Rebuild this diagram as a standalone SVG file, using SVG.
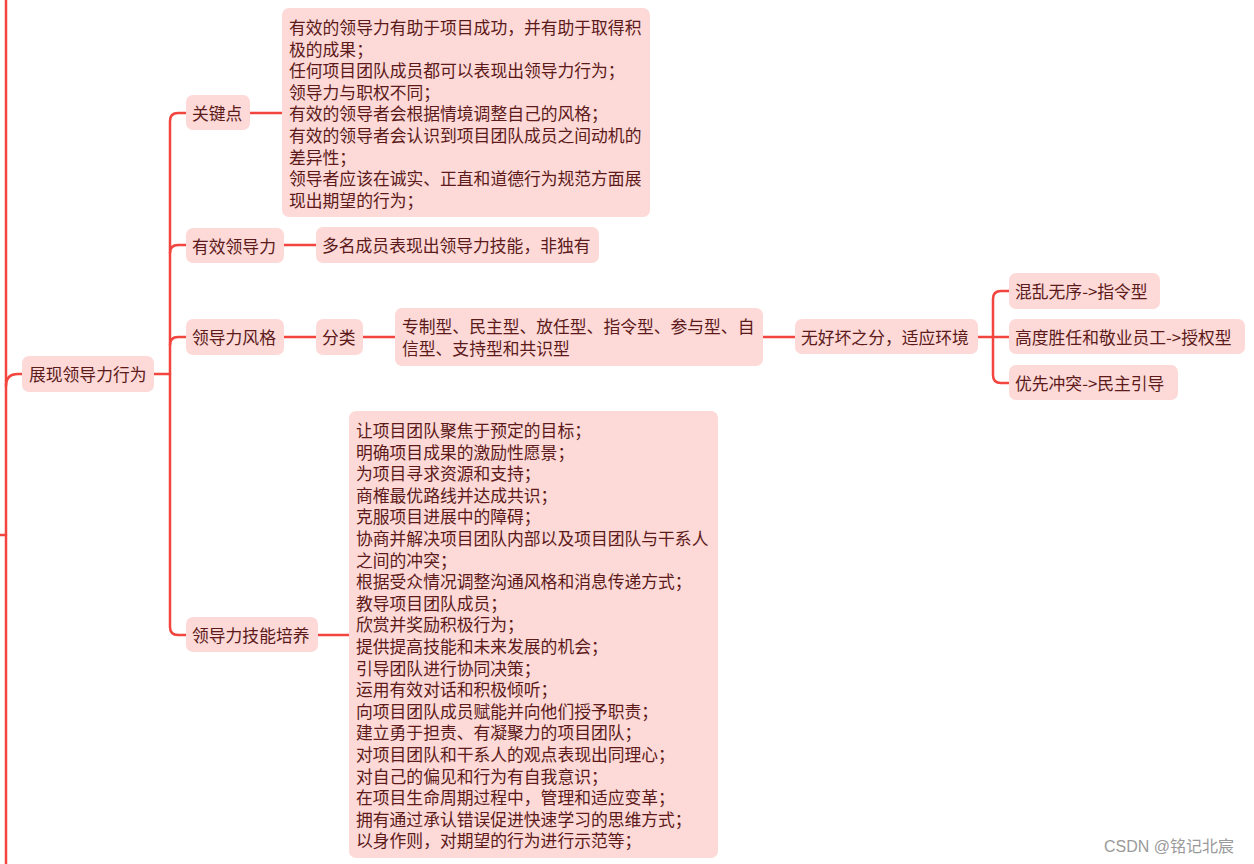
<svg xmlns="http://www.w3.org/2000/svg" width="1254" height="864" viewBox="0 0 1254 864">
<style>
.n{fill:#fdd9d7;}
.t{font-family:"Noto Sans CJK SC","Microsoft YaHei",sans-serif;font-size:16.8px;fill:#5c1a1a;dominant-baseline:central;}
.c{fill:none;stroke:#f2453d;stroke-width:2.5;stroke-linecap:round;}
.w{font-family:"Liberation Sans","Noto Sans CJK SC",sans-serif;font-size:16px;fill:#9a9a9a;dominant-baseline:central;}
</style>
<rect width="1254" height="864" fill="#ffffff"/>
<g id="connectors">
<path class="c" d="M6,-2 V866"/>
<path class="c" d="M0,535 H6"/>
<path class="c" d="M6,386 Q6,374 18,374 H22"/>
<path class="c" d="M154,374 H170"/>
<path class="c" d="M186,113 H178 Q170,113 170,121 V627 Q170,635 178,635 H186"/>
<path class="c" d="M170,253 Q170,245 178,245 H186"/>
<path class="c" d="M170,345 Q170,337 178,337 H186"/>
<path class="c" d="M250,113 H282"/>
<path class="c" d="M284,245 H316"/>
<path class="c" d="M284,337 H316"/>
<path class="c" d="M363,337 H395"/>
<path class="c" d="M763,337 H795"/>
<path class="c" d="M318,635 H349"/>
<path class="c" d="M978,337 H1009"/>
<path class="c" d="M1009,291 H1001 Q993,291 993,299 V375 Q993,383 1001,383 H1009"/>
</g>
<g id="root">
<rect class="n" x="22" y="356" width="132" height="36" rx="7"/>
<text class="t" x="29" y="374">展现领导力行为</text>
</g>
<g id="n-keypoints">
<rect class="n" x="186" y="95" width="64" height="35" rx="7"/>
<text class="t" x="192" y="113">关键点</text>
</g>
<g id="n-keypoints-detail">
<rect class="n" x="282" y="8" width="368" height="209" rx="7"/>
<text class="t" x="289" y="27">
<tspan x="289" y="27">有效的领导力有助于项目成功，并有助于取得积</tspan>
<tspan x="289" y="48.6">极的成果；</tspan>
<tspan x="289" y="70.2">任何项目团队成员都可以表现出领导力行为；</tspan>
<tspan x="289" y="91.8">领导力与职权不同；</tspan>
<tspan x="289" y="113.4">有效的领导者会根据情境调整自己的风格；</tspan>
<tspan x="289" y="135">有效的领导者会认识到项目团队成员之间动机的</tspan>
<tspan x="289" y="156.6">差异性；</tspan>
<tspan x="289" y="178.2">领导者应该在诚实、正直和道德行为规范方面展</tspan>
<tspan x="289" y="199.8">现出期望的行为；</tspan>
</text>
</g>
<g id="n-effective">
<rect class="n" x="186" y="228" width="98" height="35" rx="7"/>
<text class="t" x="192" y="245.5">有效领导力</text>
</g>
<g id="n-effective-detail">
<rect class="n" x="316" y="227" width="283" height="36" rx="7"/>
<text class="t" x="322" y="245">多名成员表现出领导力技能，非独有</text>
</g>
<g id="n-style">
<rect class="n" x="186" y="319" width="98" height="36" rx="7"/>
<text class="t" x="192" y="337">领导力风格</text>
</g>
<g id="n-class">
<rect class="n" x="316" y="319" width="47" height="36" rx="7"/>
<text class="t" x="322" y="337">分类</text>
</g>
<g id="n-types">
<rect class="n" x="395" y="308" width="368" height="58" rx="7"/>
<text class="t">
<tspan x="402" y="326">专制型、民主型、放任型、指令型、参与型、自</tspan>
<tspan x="402" y="348">信型、支持型和共识型</tspan>
</text>
</g>
<g id="n-adapt">
<rect class="n" x="795" y="319" width="183" height="35" rx="7"/>
<text class="t" x="801" y="337">无好坏之分，适应环境</text>
</g>
<g id="n-chaos">
<rect class="n" x="1009" y="273" width="151" height="36" rx="7"/>
<text class="t" x="1015" y="291">混乱无序-&gt;指令型</text>
</g>
<g id="n-competent">
<rect class="n" x="1009" y="319" width="236" height="35" rx="7"/>
<text class="t" x="1015" y="337">高度胜任和敬业员工-&gt;授权型</text>
</g>
<g id="n-conflict">
<rect class="n" x="1009" y="365" width="169" height="35" rx="7"/>
<text class="t" x="1015" y="383">优先冲突-&gt;民主引导</text>
</g>
<g id="n-skills">
<rect class="n" x="186" y="617" width="132" height="35" rx="7"/>
<text class="t" x="192" y="635">领导力技能培养</text>
</g>
<g id="n-skills-detail">
<rect class="n" x="349" y="411" width="369" height="447" rx="7"/>
<text class="t">
<tspan x="356" y="430">让项目团队聚焦于预定的目标；</tspan>
<tspan x="356" y="451.6">明确项目成果的激励性愿景；</tspan>
<tspan x="356" y="473.2">为项目寻求资源和支持；</tspan>
<tspan x="356" y="494.8">商榷最优路线并达成共识；</tspan>
<tspan x="356" y="516.4">克服项目进展中的障碍；</tspan>
<tspan x="356" y="538">协商并解决项目团队内部以及项目团队与干系人</tspan>
<tspan x="356" y="559.6">之间的冲突；</tspan>
<tspan x="356" y="581.2">根据受众情况调整沟通风格和消息传递方式；</tspan>
<tspan x="356" y="602.8">教导项目团队成员；</tspan>
<tspan x="356" y="624.4">欣赏并奖励积极行为；</tspan>
<tspan x="356" y="646">提供提高技能和未来发展的机会；</tspan>
<tspan x="356" y="667.6">引导团队进行协同决策；</tspan>
<tspan x="356" y="689.2">运用有效对话和积极倾听；</tspan>
<tspan x="356" y="710.8">向项目团队成员赋能并向他们授予职责；</tspan>
<tspan x="356" y="732.4">建立勇于担责、有凝聚力的项目团队；</tspan>
<tspan x="356" y="754">对项目团队和干系人的观点表现出同理心；</tspan>
<tspan x="356" y="775.6">对自己的偏见和行为有自我意识；</tspan>
<tspan x="356" y="797.2">在项目生命周期过程中，管理和适应变革；</tspan>
<tspan x="356" y="818.8">拥有通过承认错误促进快速学习的思维方式；</tspan>
<tspan x="356" y="840.4">以身作则，对期望的行为进行示范等；</tspan>
</text>
</g>
<text class="w" x="1104" y="846">CSDN @铭记北宸</text>
</svg>
